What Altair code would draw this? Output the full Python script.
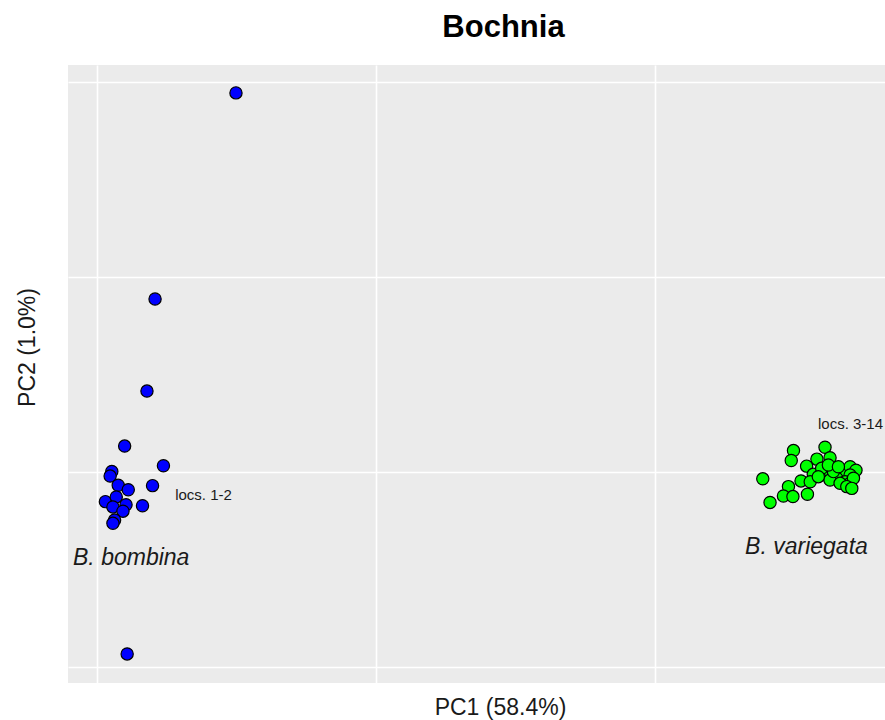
import altair as alt
import pandas as pd

# PCA scores (arbitrary PC units)
bomb_pc1 = [0.498, 0.208, 0.179, 0.099, 0.238, 0.199, 0.053, 0.047, 0.076, 0.112,
            0.030, 0.069, 0.104, 0.057, 0.093, 0.163, 0.063, 0.057, 0.108]
bomb_pc2 = [2.944, 1.887, 1.415, 1.133, 1.032, 0.930, 1.003, 0.979, 0.932, 0.909,
            0.848, 0.872, 0.832, 0.821, 0.799, 0.827, 0.754, 0.737, 0.067]

vari_pc1 = [2.496, 2.488, 2.609, 2.580, 2.627, 2.386, 2.543, 2.567, 2.523, 2.556,
            2.478, 2.460, 2.494, 2.546, 2.412, 2.609, 2.627, 2.651, 2.675, 2.699,
            2.720, 2.699, 2.651, 2.681, 2.699, 2.627, 2.663, 2.711, 2.639, 2.597,
            2.585, 2.687, 2.705, 2.621, 2.657]
vari_pc2 = [1.110, 1.059, 1.127, 1.066, 1.073, 0.965, 1.030, 0.988, 0.954, 0.950,
            0.925, 0.877, 0.874, 0.886, 0.844, 0.985, 1.002, 1.010, 1.002, 1.027,
            1.009, 0.985, 0.968, 0.950, 0.942, 0.959, 0.942, 0.968, 1.002, 1.019,
            0.976, 0.925, 0.916, 1.036, 1.027]

species = ["B. bombina", "B. variegata"]
species_colors = ["#0000FF", "#00FF00"]

grid_x = [0, 1, 2]
grid_y = [0, 1, 2, 3]
x_domain = [-0.104, 2.824]
y_domain = [-0.082, 3.087]

loc_labels = ["locs. 1-2", "locs. 3-14"]
loc_x = [0.280, 2.817]
loc_y = [0.882, 1.246]

sp_label_x = [-0.086, 2.3226]
sp_label_y = [0.559, 0.615]

pts = pd.DataFrame({
    "PC1": bomb_pc1 + vari_pc1,
    "PC2": bomb_pc2 + vari_pc2,
    "species": [species[0]] * len(bomb_pc1) + [species[1]] * len(vari_pc1),
})

xs = alt.Scale(domain=x_domain, nice=False, zero=False)
ys = alt.Scale(domain=y_domain, nice=False, zero=False)

xaxis = alt.Axis(values=grid_x, labels=False, ticks=False, domain=False,
                 grid=True, gridColor="white", gridWidth=1.6, gridOpacity=1,
                 title="PC1 (58.4%)", titleFont="Liberation Sans", titleFontSize=23,
                 titleFontWeight="normal", titleColor="#1a1a1a",
                 titleX=432, titleY=31, titleBaseline="alphabetic", titleAlign="center")
yaxis = alt.Axis(values=grid_y, labels=False, ticks=False, domain=False,
                 grid=True, gridColor="white", gridWidth=1.6, gridOpacity=1,
                 title="PC2 (1.0%)", titleFont="Liberation Sans", titleFontSize=23,
                 titleFontWeight="normal", titleColor="#1a1a1a",
                 titleX=-34, titleY=282, titleBaseline="alphabetic", titleAlign="center",
                 titleAngle=270)

points = alt.Chart(pts).mark_circle(size=150, opacity=1, stroke="black", strokeWidth=1.2).encode(
    x=alt.X("PC1:Q", scale=xs, axis=xaxis),
    y=alt.Y("PC2:Q", scale=ys, axis=yaxis),
    fill=alt.Fill("species:N", scale=alt.Scale(domain=species, range=species_colors), legend=None),
)

loc_df = pd.DataFrame({"label": loc_labels, "x": loc_x, "y": loc_y})
loc_left = alt.Chart(loc_df.iloc[[0]]).mark_text(
    align="left", baseline="middle", font="Liberation Sans", fontSize=15, color="#1a1a1a"
).encode(x=alt.X("x:Q", scale=xs), y=alt.Y("y:Q", scale=ys), text="label:N")
loc_right = alt.Chart(loc_df.iloc[[1]]).mark_text(
    align="right", baseline="middle", font="Liberation Sans", fontSize=15, color="#1a1a1a"
).encode(x=alt.X("x:Q", scale=xs), y=alt.Y("y:Q", scale=ys), text="label:N")

sp_df = pd.DataFrame({"label": species, "x": sp_label_x, "y": sp_label_y})
sp_text = alt.Chart(sp_df).mark_text(
    align="left", baseline="middle", font="Liberation Sans", fontSize=23,
    fontStyle="italic", color="#1a1a1a"
).encode(x=alt.X("x:Q", scale=xs), y=alt.Y("y:Q", scale=ys), text="label:N")

chart = alt.layer(points, loc_left, loc_right, sp_text).properties(
    width=817, height=618,
    title=alt.TitleParams("Bochnia", font="Liberation Sans", fontSize=31, fontWeight="bold",
                          color="black", anchor="middle", dx=27, offset=21),
    padding={"left": 68, "top": 65, "right": 0, "bottom": 37},
    autosize=alt.AutoSizeParams(type="none"),
    background="white",
).configure_view(fill="#EBEBEB", stroke=None)

chart.save("out.html", embed_options={"renderer": "svg", "actions": False})
